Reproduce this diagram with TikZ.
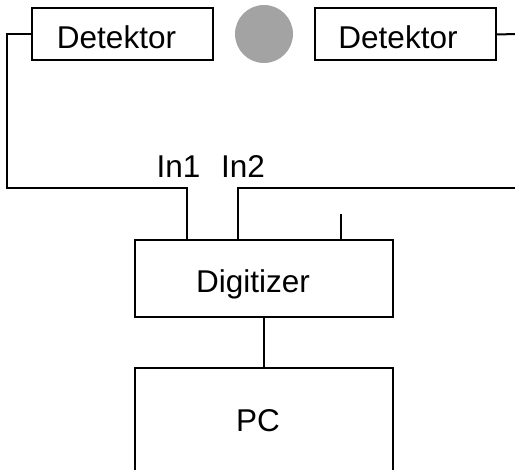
\documentclass[tikz,border=0pt]{standalone}
\usepackage{fontspec}
\setmainfont{Liberation Sans}
\usepackage{xcolor}
\usepackage{tikz}
\usetikzlibrary{positioning}
\definecolor{source}{HTML}{A3A3A3}

\begin{document}
\begin{tikzpicture}[
  x=1pt, y=-1pt,
  txt/.style={font=\fontsize{31.5}{38}\selectfont, inner sep=0pt, anchor=base},
  box/.style={draw, line width=2pt, minimum width=181pt, minimum height=52pt, inner sep=0pt},
  unit/.style={box, minimum width=258pt},
  wire/.style={draw, line width=2pt}
]
\clip (0,0) rectangle (515,470);
\node[box] (det1) at (122.5,34.5) {};
\node[box] (det2) at (405.5,34.5) {};
\node[circle, fill=source, minimum size=58pt, inner sep=0pt] (src) at (264,34) {};
\node[unit, minimum height=77pt] (dig) at (264,278.5) {};
\node[unit, minimum height=108pt] (pc) at (264,422) {};
\node[txt] (det1name) at ([shift={(-6,14)}]det1.center) {Detektor};
\node[txt] (det2name) at ([shift={(-7.5,14)}]det2.center) {Detektor};
\node[txt] (digname) at ([shift={(-11,14)}]dig.center) {Digitizer};
\node[txt] (pcname) at ([shift={(-6,10)}]pc.center) {PC};
\coordinate (in1) at (187,240);
\coordinate (in2) at (238,240);
\coordinate (in3) at (341,240);
\coordinate (left) at (7,188);
\coordinate (r1) at (516,34);
\coordinate (r2) at (516,188);
\node[txt] (l1) at (178.5,177.5) {In1};
\node[txt] (l2) at (243,177.5) {In2};
\draw[wire] (det1.west) -| (left) -| (in1);
\draw[wire] (det2.east) -- (r1);
\draw[wire] (r2) -| (in2);
\draw[wire] (in3) -- ++(0,-26);
\draw[wire] (dig) -- (pc);
\end{tikzpicture}
\end{document}
